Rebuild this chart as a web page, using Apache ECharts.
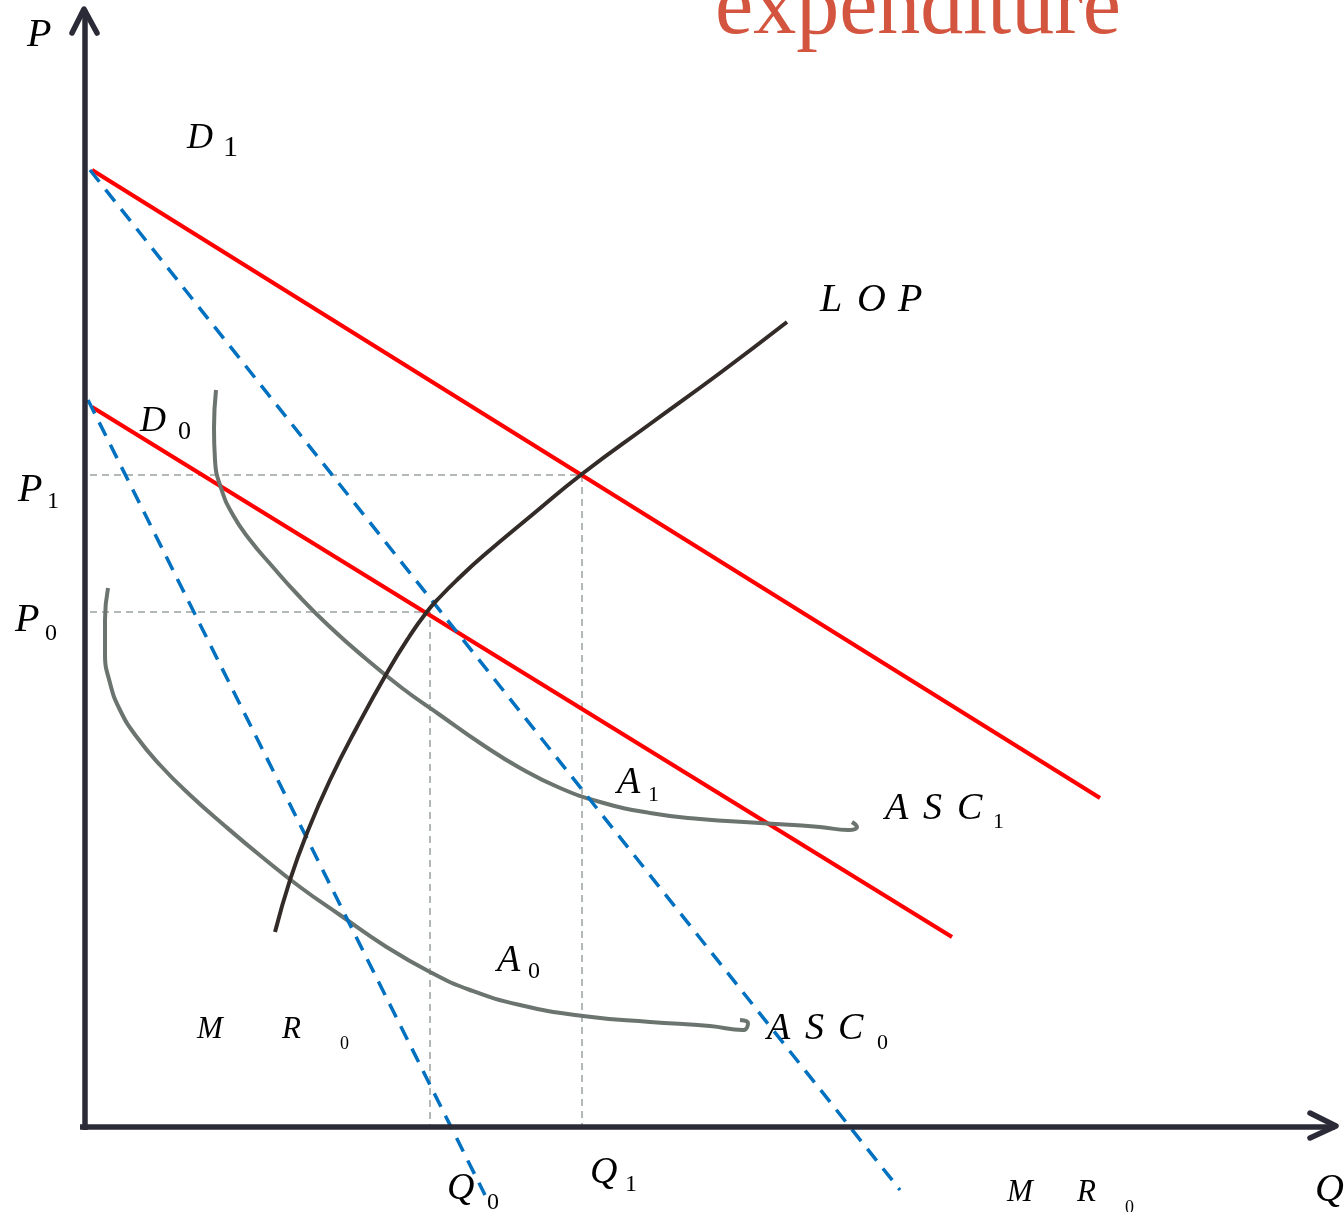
<!DOCTYPE html>
<html><head><meta charset="utf-8">
<script src="https://cdn.jsdelivr.net/npm/echarts@6/dist/echarts.min.js"></script>
<style>html,body{margin:0;padding:0;background:#fff}#c{width:1344px;height:1212px}</style>
</head><body><div id="c"></div>
<script>
// ---- data (abstract units: quantity on x, price on y) ----
const demandD1 = [[0.07, 9.57], [10.15, 3.29]];
const demandD0 = [[0.07, 7.20], [8.67, 1.90]];
const marginalRevenue1 = [[0.05, 9.57], [8.15, -0.63]];
const marginalRevenue0 = [[0.03, 7.27], [4.00, -0.68]];
const lop = [[1.90,1.95],[2.05,2.47],[2.22,2.94],[2.45,3.47],[2.72,4.00],[3.03,4.56],[3.24,4.90],[3.41,5.14],[3.55,5.30],[3.74,5.49],[3.98,5.71],[4.47,6.12],[4.97,6.53],[5.65,7.03],[6.35,7.54],[7.02,8.05]];
const asc1 = [[1.31,7.37],[1.29,6.99],[1.30,6.67],[1.36,6.39],[1.48,6.12],[1.65,5.87],[1.87,5.61],[2.13,5.32],[2.45,5.00],[2.80,4.69],[3.17,4.39],[3.55,4.12],[3.95,3.84],[4.35,3.59],[4.75,3.39],[5.15,3.25],[5.65,3.14],[6.15,3.08],[6.75,3.04],[7.35,3.00],[7.63,2.97],[7.72,3.00],[7.67,3.05]];
const asc0 = [[0.23,5.39],[0.20,5.07],[0.20,4.74],[0.25,4.44],[0.35,4.17],[0.51,3.91],[0.75,3.62],[1.05,3.32],[1.40,3.01],[1.77,2.70],[2.15,2.40],[2.55,2.12],[3.00,1.81],[3.45,1.55],[3.85,1.37],[4.35,1.22],[4.98,1.11],[5.65,1.05],[6.25,1.01],[6.58,0.97],[6.63,1.04],[6.55,1.07]];
const P1 = 6.52, Q1 = 4.97, P0 = 5.15, Q0 = 3.45;
const guide1 = [[0.05, P1], [Q1, P1], [Q1, 0]];
const guide0 = [[0.05, P0], [Q0, P0], [Q0, 0]];
const yAxisLine = [[0, -0.03], [0, 11.17]];
const xAxisLine = [[-0.05, 0], [12.50, 0]];
const yArrow = [[-0.13, 10.94], [-0.01, 11.18], [0.12, 10.94]];
const xArrow = [[12.25, 0.14], [12.51, 0.01], [12.25, -0.11]];
const titleText = 'expenditure';
// label texts
const labelTexts = ['P','D','1','D','0','P','1','P','0','L','O','P','A','1','A','0','A','S','C','1','A','S','C','0','M','R','0','M','R','0','Q','Q','0','Q','1'];

// ---- layout of labels (pixel left, baseline, font size, italic) ----
const labelLayout = [
  [27,45,40,1],[187,147,36,1],[223,155,30,0],[140,430,36,1],[178,438,26,0],
  [18,500,40,1],[47,507,24,0],[15,630,40,1],[45,639,24,0],
  [820,310,40,1],[857,310,40,1],[898,310,40,1],
  [617,792,38,1],[648,800,22,0],[497,970,38,1],[528,977,24,0],
  [885,818,38,1],[923,818,38,1],[957,818,38,1],[993,827,22,0],
  [767,1038,38,1],[805,1038,38,1],[838,1038,38,1],[877,1048,22,0],
  [197,1037,31,1],[282,1037,31,1],[340,1048,18,0],
  [1007,1200,31,1],[1077,1200,31,1],[1125,1212,18,0],
  [1315,1200,40,1],[447,1198,38,1],[487,1208,24,0],[590,1182,38,1],[625,1190,24,0]
];

const SERIF = '"Liberation Serif","Times New Roman",serif';
const BASE_K = 0.23;
const graphics = labelTexts.map((t, i) => {
  const [x, base, fs, it] = labelLayout[i];
  return {type:'text', x: x, y: base - BASE_K*fs, silent:true, z:100,
    style:{text:t, font:(it?'italic ':'')+fs+'px '+SERIF, fill:'#000', align:'left', verticalAlign:'middle', textAlign:'left', textVerticalAlign:'middle'}};
});
graphics.push({type:'text', x:715, y:30 - BASE_K*86, silent:true, z:100,
  style:{text:titleText, font:'86px '+SERIF, fill:'#d4553f', align:'left', verticalAlign:'middle', textAlign:'left', textVerticalAlign:'middle'}});

function line(data, color, width, type, extra) {
  return Object.assign({type:'line', data:data, showSymbol:false, symbol:'none', silent:true, animation:false,
    lineStyle:{color:color, width:width, type:type||'solid', cap:'butt'}}, extra||{});
}
const dashBlue = [15, 10];
const series = [
  line(guide1, '#9aa39e', 1.5, [7,5]),
  line(guide0, '#9aa39e', 1.5, [7,5]),
  line(demandD1, '#ff0000', 4.2),
  line(demandD0, '#ff0000', 4.2),
  line(asc1, '#6b746f', 4, 'solid', {smooth:0.5}),
  line(asc0, '#6b746f', 4, 'solid', {smooth:0.5}),
  line(marginalRevenue1, '#0070c0', 3.5, dashBlue),
  line(marginalRevenue0, '#0070c0', 3.5, dashBlue),
  line(lop, '#332b28', 4, 'solid', {smooth:0.5}),
  line(yAxisLine, '#2b2b38', 5.5),
  line(xAxisLine, '#2b2b38', 5.5),
  line(yArrow, '#2b2b38', 5.5, 'solid', {lineStyle:{color:'#2b2b38', width:5.5, cap:'round', join:'round'}}),
  line(xArrow, '#2b2b38', 5.5, 'solid', {lineStyle:{color:'#2b2b38', width:5.5, cap:'round', join:'round'}})
];

const chart = echarts.init(document.getElementById('c'), null, {renderer:'canvas'});
chart.setOption({
  animation:false,
  backgroundColor:'#ffffff',
  grid:{left:0, right:0, top:0, bottom:0, containLabel:false},
  xAxis:{type:'value', min:-0.85, max:12.59, show:false, splitLine:{show:false}},
  yAxis:{type:'value', min:-0.85, max:11.27, show:false, splitLine:{show:false}},
  series: series,
  graphic: graphics
});
</script>
</body></html>
